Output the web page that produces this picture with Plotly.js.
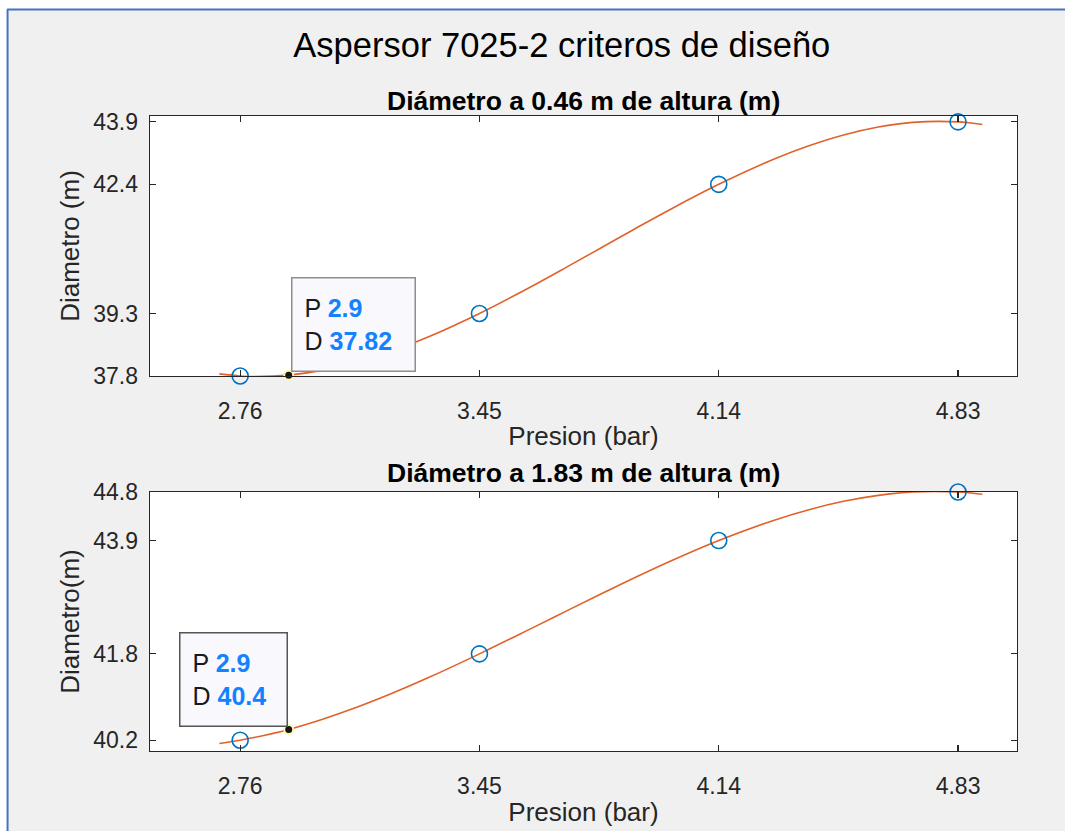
<!DOCTYPE html>
<html>
<head>
<meta charset="utf-8">
<script src="https://cdn.plot.ly/plotly-3.0.1.min.js"></script>
<style>html,body{margin:0;padding:0;background:#fff;}#chart{width:1065px;height:831px;}</style>
</head>
<body>
<div id="chart"></div>
<script>
// Measured data points
const pressure = [2.76, 3.45, 4.14, 4.83];
const pressureLabels = ["2.76", "3.45", "4.14", "4.83"];
const diam046 = [37.8, 39.3, 42.4, 43.9];
const diam046Labels = ["37.8", "39.3", "42.4", "43.9"];
const diam183 = [40.2, 41.8, 43.9, 44.8];
const diam183Labels = ["40.2", "41.8", "43.9", "44.8"];

// Fitted curve
const curveP = [2.70, 2.76, 2.8, 2.9, 3.0, 3.1, 3.2, 3.3, 3.45, 3.6, 3.7, 3.8, 3.9, 4.0, 4.14, 4.3, 4.4, 4.5, 4.6, 4.7, 4.83, 4.9];
const curveD046 = [37.85, 37.80, 37.787, 37.82, 37.94, 38.138, 38.404, 38.727, 39.30, 39.948, 40.406, 40.873, 41.340, 41.797, 42.40, 43.008, 43.325, 43.585, 43.775, 43.888, 43.90, 43.838];
const curveD183 = [40.14, 40.20, 40.249, 40.40, 40.594, 40.819, 41.073, 41.351, 41.80, 42.273, 42.592, 42.909, 43.219, 43.516, 43.90, 44.278, 44.472, 44.627, 44.738, 44.801, 44.80, 44.758];

// Data tips
const tipP = [2.9];
const tipD046 = [37.82];
const tipD183 = [40.4];

const FONT = '"Liberation Sans", Arial, Helvetica, sans-serif';
const AXC = '#262626';
const BLUE = '#0072BD';
const ORANGE = '#E0622A';
const TIPBLUE = '#1482ff';

const traces = [
  {x: curveP, y: curveD046, xaxis: 'x', yaxis: 'y', mode: 'lines', line: {color: ORANGE, width: 1.6, shape: 'spline'}, hoverinfo: 'skip'},
  {x: pressure, y: diam046, xaxis: 'x', yaxis: 'y', mode: 'markers', cliponaxis: false,
   marker: {symbol: 'circle-open', size: 16, color: BLUE, line: {width: 1.6, color: BLUE}}},
  {x: tipP, y: tipD046, xaxis: 'x', yaxis: 'y', mode: 'markers', cliponaxis: false,
   marker: {size: 9, color: '#151515', line: {width: 2, color: '#fbf7b0'}}},
  {x: curveP, y: curveD183, xaxis: 'x2', yaxis: 'y2', mode: 'lines', line: {color: ORANGE, width: 1.6, shape: 'spline'}, hoverinfo: 'skip'},
  {x: pressure, y: diam183, xaxis: 'x2', yaxis: 'y2', mode: 'markers', cliponaxis: false,
   marker: {symbol: 'circle-open', size: 16, color: BLUE, line: {width: 1.6, color: BLUE}}},
  {x: tipP, y: tipD183, xaxis: 'x2', yaxis: 'y2', mode: 'markers', cliponaxis: false,
   marker: {size: 9, color: '#151515', line: {width: 2, color: '#fbf7b0'}}}
];

function xAxis(anchor) {
  return {
    anchor: anchor, domain: [0, 1], range: [2.5, 5.0],
    tickvals: pressure, ticktext: pressureLabels,
    ticks: 'inside', ticklen: 6, tickwidth: 1.2, tickcolor: AXC,
    showline: true, linecolor: AXC, linewidth: 1.4, mirror: 'ticks',
    showgrid: false, zeroline: false, ticklabelstandoff: 14,
    tickfont: {family: FONT, size: 23, color: AXC},
    title: {text: 'Presion (bar)', font: {family: FONT, size: 26, color: AXC}, standoff: 4}
  };
}
function yAxis(anchor, domain, range, vals, labels, title) {
  return {
    anchor: anchor, domain: domain, range: range,
    tickvals: vals, ticktext: labels,
    ticks: 'inside', ticklen: 6, tickwidth: 1.2, tickcolor: AXC,
    showline: true, linecolor: AXC, linewidth: 1.4, mirror: 'ticks',
    showgrid: false, zeroline: false, ticklabelstandoff: 6,
    tickfont: {family: FONT, size: 23, color: AXC},
    title: {text: title, font: {family: FONT, size: 26, color: AXC}, standoff: 6}
  };
}

function tipText(p, d) {
  return 'P <b><span style="color:' + TIPBLUE + '">' + p + '</span></b><br>D <b><span style="color:' + TIPBLUE + '">' + d + '</span></b>';
}

const layout = {
  width: 1065, height: 831,
  margin: {l: 150, r: 48, t: 116, b: 80},
  paper_bgcolor: '#f0f0f0', plot_bgcolor: '#ffffff',
  showlegend: false,
  font: {family: FONT, color: AXC},
  title: {text: 'Aspersor 7025-2 criteros de diseño', font: {family: FONT, size: 34.5, color: '#000'},
          xref: 'paper', x: 0.475, xanchor: 'center', yref: 'container', y: 0.946, yanchor: 'middle'},
  xaxis: xAxis('y'),
  yaxis: yAxis('x', [0.5906, 1], [37.8, 44.04], diam046, diam046Labels, 'Diametro (m)'),
  xaxis2: xAxis('y2'),
  yaxis2: yAxis('x2', [0, 0.4079], [40.0, 44.8], diam183, diam183Labels, 'Diametro(m)'),
  annotations: [
    {text: '<b>Diámetro a 0.46 m de altura (m)</b>', xref: 'paper', yref: 'paper', x: 0.5, y: 1.0236,
     xanchor: 'center', yanchor: 'middle', showarrow: false, font: {family: FONT, size: 26.5, color: '#000'}},
    {text: '<b>Diámetro a 1.83 m de altura (m)</b>', xref: 'paper', yref: 'paper', x: 0.5, y: 0.4378,
     xanchor: 'center', yanchor: 'middle', showarrow: false, font: {family: FONT, size: 26.5, color: '#000'}},
    {text: tipText(tipP[0], tipD046[0]), xref: 'x', yref: 'y', x: tipP[0], y: tipD046[0],
     xanchor: 'left', yanchor: 'bottom', xshift: 2, yshift: 3, showarrow: false, align: 'left',
     width: 98, height: 68, borderpad: 12, bgcolor: '#f8f8fd', bordercolor: '#8e8e8e', borderwidth: 1.5,
     font: {family: FONT, size: 25, color: '#1a1a1a'}},
    {text: tipText(tipP[0], tipD183[0]), xref: 'x2', yref: 'y2', x: tipP[0], y: tipD183[0],
     xanchor: 'right', yanchor: 'bottom', xshift: -1, yshift: 2, showarrow: false, align: 'left',
     width: 82, height: 68, borderpad: 12, bgcolor: '#f8f8fd', bordercolor: '#555555', borderwidth: 1.5,
     font: {family: FONT, size: 25, color: '#1a1a1a'}}
  ],
  shapes: [
    {type: 'rect', xref: 'paper', yref: 'paper', x0: -0.2, x1: 1.1, y0: 1.1685, y1: 1.19, fillcolor: '#ffffff', line: {width: 0}},
    {type: 'rect', xref: 'paper', yref: 'paper', x0: -0.2, x1: -0.1649, y0: -0.2, y1: 1.19, fillcolor: '#ffffff', line: {width: 0}},
    {type: 'line', xref: 'paper', yref: 'paper', x0: -0.1649, x1: 1.1, y0: 1.1677, y1: 1.1677, line: {color: '#4472c4', width: 2}},
    {type: 'line', xref: 'paper', yref: 'paper', x0: -0.1643, x1: -0.1643, y0: -0.2, y1: 1.1677, line: {color: '#4472c4', width: 2}}
  ]
};

Plotly.newPlot('chart', traces, layout, {displayModeBar: false, staticPlot: true});
</script>
</body>
</html>
